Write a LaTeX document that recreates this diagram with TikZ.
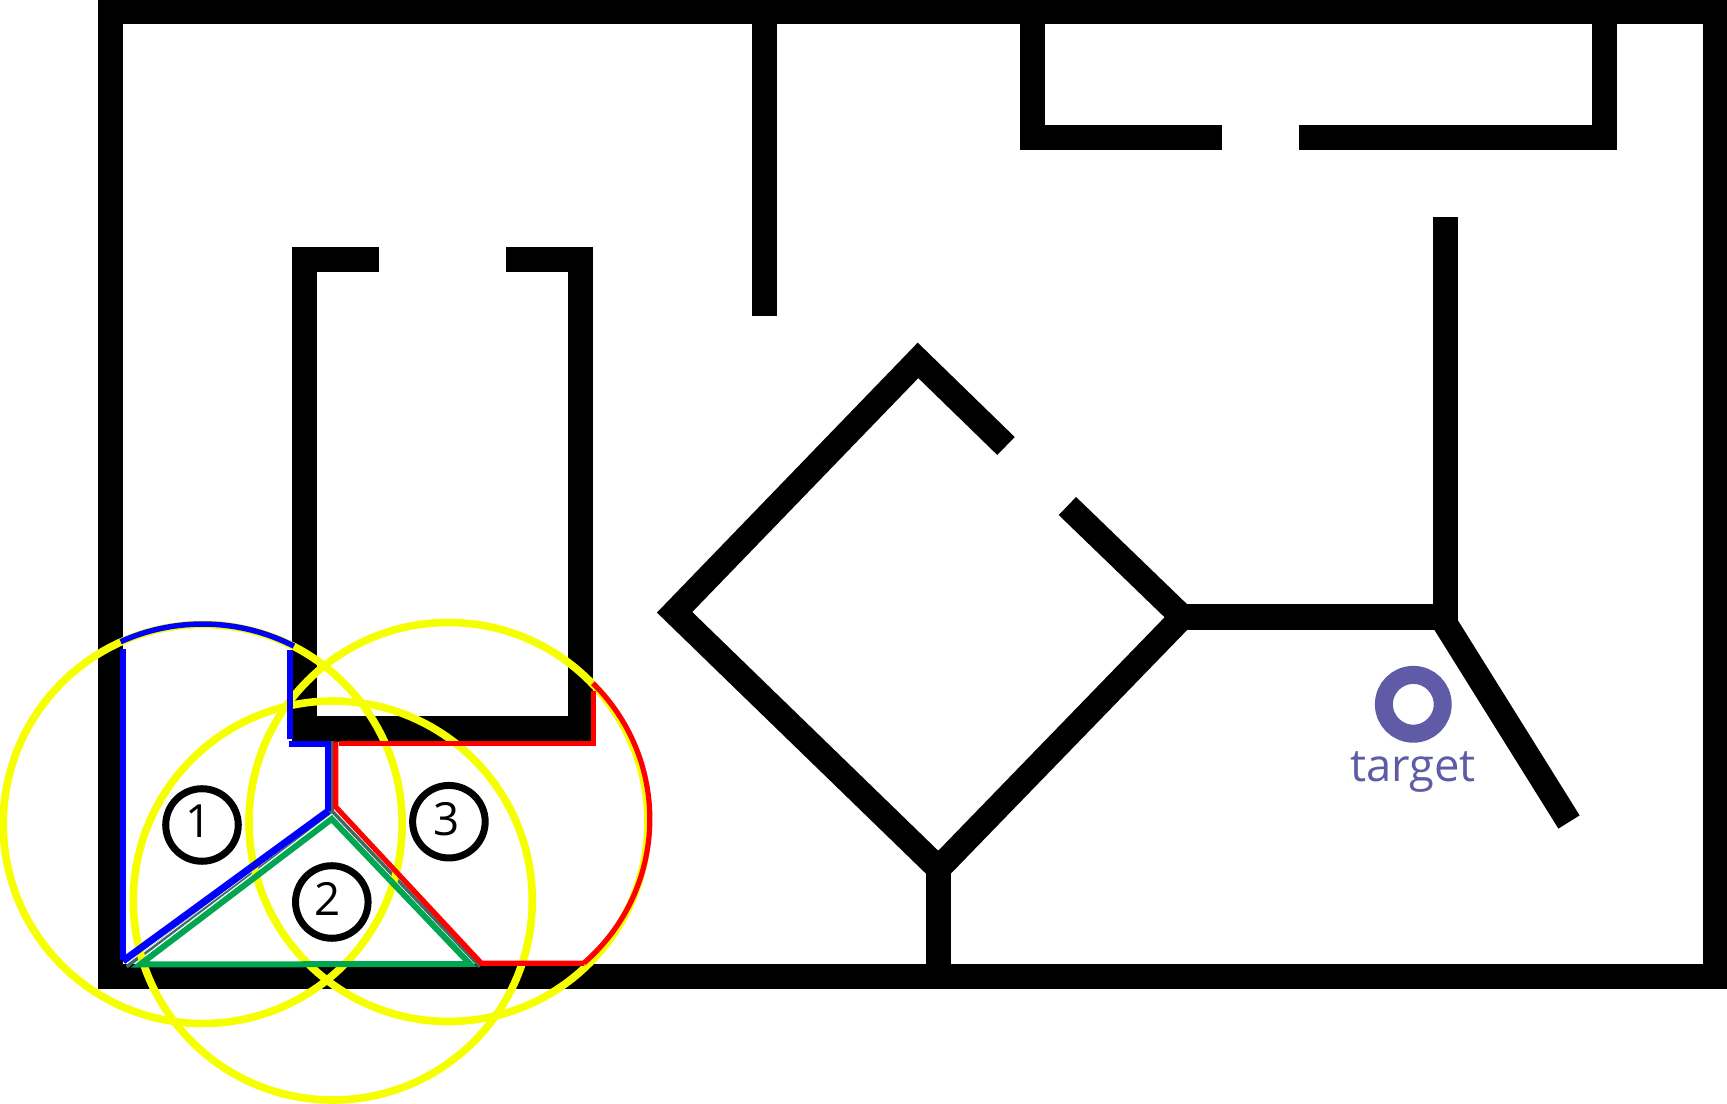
\documentclass[tikz,border=0pt]{standalone}
\usepackage{fontspec}
\setmainfont{Open Sans}
\definecolor{targetblue}{RGB}{95,91,166}
\definecolor{rangeyellow}{RGB}{246,255,0}
\definecolor{pathgreen}{RGB}{0,166,81}
\definecolor{seamgrey}{RGB}{62,108,98}
\tikzset{
wall/.style={line width=0.25cm,miter limit=10},
rangecircle/.style={rangeyellow,line width=0.076cm},
bluepath/.style={blue,line width=0.055cm},
redpath/.style={red,line width=0.052cm},
greenpath/.style={pathgreen,line width=0.06cm},
seam/.style={seamgrey,line width=0.034cm},
numring/.style={draw,circle,line width=0.07cm,minimum size=0.725cm,inner sep=0pt},
roomnum/.style={font=\fontsize{13}{15}\selectfont,inner sep=0pt},
}

\begin{document}
\begin{tikzpicture}[x=0.01cm,y=-0.01cm]
\useasboundingbox (0,0) rectangle (1727,1104);

% walls
\draw[wall] (110.5,12) rectangle (1715,976.5);
\draw[wall] (764.5,12) -- (764.5,316);
\draw[wall] (1221.5,138) -- (1032,138) -- (1032,12);
\draw[wall] (1298.5,138) -- (1604.5,138) -- (1604.5,12);
\draw[wall] (379,259.5) -- (304.5,259.5) -- (304.5,729) -- (580.5,729) -- (580.5,259.5) -- (505.5,259.5);
\draw[wall] (1006,446) -- (918,360.4) -- (674.6,612.3) -- (938.5,868.4) -- (1182.3,617) -- (1067.4,506);
\draw[wall] (938.5,868.4) -- (938.5,976.5);
\draw[wall] (1182,617) -- (1445.5,617);
\draw[wall] (1445.5,217) -- (1445.5,622);
\draw[wall] (1444.5,622.5) -- (1569,822);

% seams between the regions
\draw[seam] (126.7,966.7) -- (332,811) -- (480,966.7);
\draw[seam] (332.3,741) -- (332.3,811);
\draw[white,line width=0.007cm] (140,955) -- (323,818);

% ranges
\draw[rangecircle] (202.7,824) circle[radius=199.5];
\draw[rangecircle] (332.8,900.5) circle[radius=199.5];
\draw[rangecircle] (448.5,822) circle[radius=199.5];

% regions
\draw[redpath] (339,743.3) -- (593.3,743.3) -- (593.3,690.7);
\draw[redpath] (592.9,683.3) arc[start angle=-45.5,end angle=49.2,radius=190.3];
\draw[redpath] (584.3,963.3) -- (481.4,963.3) -- (335.8,807) -- (335.8,741.7);

\draw[greenpath] (331.7,819) -- (140,964.5) -- (470,964) -- cycle;

\draw[bluepath] (123,649.3) -- (123,960);
\draw[bluepath,line width=0.07cm] (123,961) -- (328.3,811);
\draw[bluepath] (328.2,811) -- (328.2,744) -- (288.8,744);
\draw[bluepath] (290,739.5) -- (290,650);
\draw[bluepath] (120.6,641.7) arc[start angle=-114.3,end angle=-62.8,radius=199.5];

% target
\draw[targetblue,line width=0.18cm] (1413.3,704.3) circle[radius=29.4];
\node[targetblue,anchor=base,font=\fontsize{12.9}{15}\selectfont,inner sep=0pt] (target) at (1413,781.7) {target};

% room numbers
\node[numring] (ring1) at (202,825) {};
\node[numring] (ring2) at (331.8,902) {};
\node[numring] (ring3) at (448.9,821.7) {};
\node[roomnum] (num1) at (198.6,821.6) {1};
\node[roomnum] (num2) at (328,899) {2};
\node[roomnum] (num3) at (446.7,819) {3};

\end{tikzpicture}
\end{document}
